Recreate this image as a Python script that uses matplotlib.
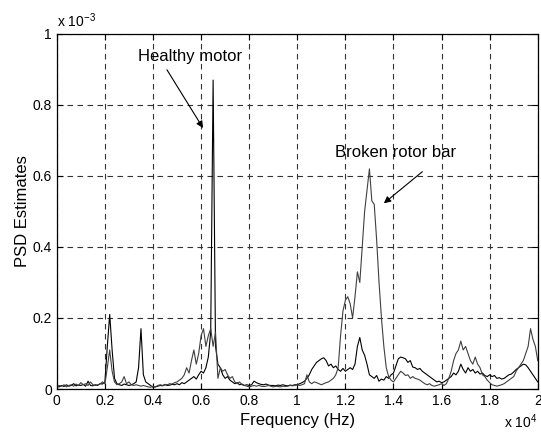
import numpy as np
import matplotlib
matplotlib.use("Agg")
import matplotlib.pyplot as plt

plt.rcParams['font.family'] = ['Liberation Sans', 'DejaVu Sans']
plt.rcParams['mathtext.fontset'] = 'custom'
plt.rcParams['mathtext.rm'] = 'Liberation Sans'
plt.rcParams['mathtext.it'] = 'Liberation Sans'

# frequency grid step (Hz), PSD values in units of 1e-3
freq_step = 100
healthy = [
    0.008, 0.006, 0.010, 0.007, 0.012, 0.008, 0.010, 0.015, 0.009, 0.011,
    0.010, 0.013, 0.008, 0.022, 0.010, 0.009, 0.012, 0.010, 0.015, 0.014,
    0.020, 0.120, 0.210, 0.110, 0.030, 0.015, 0.012, 0.010, 0.014, 0.012,
    0.010, 0.012, 0.015, 0.020, 0.060, 0.170, 0.040, 0.020, 0.015, 0.010,
    0.005, 0.006, 0.008, 0.010, 0.009, 0.012, 0.010, 0.011, 0.013, 0.012,
    0.015, 0.012, 0.018, 0.015, 0.020, 0.025, 0.030, 0.035, 0.028, 0.040,
    0.050, 0.045, 0.060, 0.090, 0.160, 0.870, 0.120, 0.070, 0.060, 0.040,
    0.030, 0.035, 0.025, 0.020, 0.015, 0.018, 0.012, 0.014, 0.010, 0.012,
    0.010, 0.012, 0.022, 0.018, 0.015, 0.013, 0.012, 0.014, 0.011, 0.010,
    0.010, 0.009, 0.011, 0.010, 0.012, 0.010, 0.009, 0.011, 0.010, 0.012,
    0.012, 0.015, 0.018, 0.022, 0.030, 0.040, 0.055, 0.065, 0.075, 0.080,
    0.085, 0.088, 0.080, 0.065, 0.070, 0.060, 0.065, 0.055, 0.050, 0.058,
    0.050, 0.055, 0.060, 0.055, 0.070, 0.120, 0.145, 0.110, 0.095, 0.070,
    0.040, 0.035, 0.030, 0.038, 0.022, 0.028, 0.025, 0.035, 0.030, 0.040,
    0.045, 0.065, 0.085, 0.090, 0.088, 0.085, 0.075, 0.080, 0.062, 0.060,
    0.055, 0.058, 0.050, 0.045, 0.040, 0.035, 0.030, 0.025, 0.020, 0.022,
    0.018, 0.020, 0.025, 0.030, 0.035, 0.045, 0.040, 0.050, 0.070, 0.055,
    0.045, 0.060, 0.050, 0.055, 0.045, 0.050, 0.042, 0.045, 0.038, 0.035,
    0.040, 0.035, 0.038, 0.030, 0.032, 0.028, 0.030, 0.035, 0.040, 0.042,
    0.048, 0.055, 0.060, 0.065, 0.070, 0.068, 0.060, 0.050, 0.040, 0.030,
    0.020,
]
broken = [
    0.005, 0.010, 0.008, 0.012, 0.006, 0.010, 0.012, 0.008, 0.014, 0.010,
    0.018, 0.012, 0.015, 0.010, 0.020, 0.012, 0.010, 0.012, 0.014, 0.020,
    0.015, 0.060, 0.110, 0.050, 0.020, 0.012, 0.015, 0.020, 0.035, 0.015,
    0.020, 0.012, 0.010, 0.012, 0.010, 0.008, 0.010, 0.008, 0.006, 0.005,
    0.008, 0.006, 0.010, 0.012, 0.010, 0.013, 0.012, 0.015, 0.014, 0.018,
    0.020, 0.025, 0.030, 0.040, 0.060, 0.045, 0.080, 0.110, 0.070, 0.100,
    0.150, 0.170, 0.120, 0.150, 0.170, 0.120, 0.160, 0.030, 0.060, 0.050,
    0.055, 0.040, 0.030, 0.035, 0.020, 0.015, 0.020, 0.012, 0.010, 0.008,
    0.006, 0.008, 0.010, 0.008, 0.010, 0.008, 0.007, 0.008, 0.010, 0.008,
    0.006, 0.008, 0.007, 0.006, 0.008, 0.007, 0.008, 0.010, 0.009, 0.010,
    0.012, 0.010, 0.012, 0.015, 0.040, 0.020, 0.015, 0.020, 0.018, 0.015,
    0.012, 0.015, 0.018, 0.020, 0.025, 0.030, 0.040, 0.060, 0.150, 0.220,
    0.250, 0.260, 0.240, 0.200, 0.260, 0.330, 0.300, 0.400, 0.500, 0.560,
    0.620, 0.530, 0.520, 0.420, 0.300, 0.200, 0.120, 0.060, 0.035, 0.025,
    0.020, 0.030, 0.040, 0.050, 0.045, 0.038, 0.040, 0.030, 0.035, 0.030,
    0.028, 0.025, 0.020, 0.015, 0.012, 0.015, 0.010, 0.008, 0.010, 0.012,
    0.015, 0.010, 0.015, 0.030, 0.050, 0.080, 0.100, 0.110, 0.135, 0.110,
    0.120, 0.100, 0.080, 0.070, 0.090, 0.070, 0.060, 0.040, 0.035, 0.025,
    0.018, 0.012, 0.010, 0.008, 0.010, 0.012, 0.015, 0.020, 0.025, 0.030,
    0.035, 0.050, 0.060, 0.070, 0.080, 0.100, 0.120, 0.170, 0.140, 0.120,
    0.080,
]
xticks = [0, 0.2, 0.4, 0.6, 0.8, 1, 1.2, 1.4, 1.6, 1.8, 2]
xticklabels = ['0', '0.2', '0.4', '0.6', '0.8', '1', '1.2', '1.4', '1.6', '1.8', '2']
yticks = [0, 0.2, 0.4, 0.6, 0.8, 1]
yticklabels = ['0', '0.2', '0.4', '0.6', '0.8', '1']

freq = np.arange(len(healthy)) * freq_step / 1e4  # in units of 1e4 Hz

fig = plt.figure(figsize=(5.41, 4.32), dpi=100)
ax = fig.add_axes([0.105, 0.0995, 0.889, 0.822])

ax.plot(freq, healthy, color='k', lw=0.8)
ax.plot(freq, broken, color='0.25', lw=0.8)

ax.set_xlim(0, 2)
ax.set_ylim(0, 1)
ax.set_xticks(xticks)
ax.set_xticklabels(xticklabels)
ax.set_yticks(yticks)
ax.set_yticklabels(yticklabels)
ax.tick_params(direction='in', length=4, labelsize=10, top=True, right=True, width=0.8)
ax.grid(True, color='0.2', linestyle=(0, (5, 4)), lw=0.8)
for s in ax.spines.values():
    s.set_linewidth(0.9)

ax.set_xlabel('Frequency (Hz)', fontsize=12, labelpad=4)
ax.set_ylabel('PSD Estimates', fontsize=12, labelpad=2)

ax.text(0, 1.01, r'x 10$^{-3}$', transform=ax.transAxes, fontsize=10, ha='left', va='bottom')
ax.text(1.0, -0.065, r'x 10$^{4}$', transform=ax.transAxes, fontsize=10, ha='right', va='top')

# labels and arrows
ax.text(0.554, 0.935, 'Healthy motor', fontsize=12, ha='center', va='center')
ax.annotate('', xy=(0.608, 0.735), xytext=(0.458, 0.899),
            arrowprops=dict(arrowstyle='-|>', color='k', lw=0.8, mutation_scale=10,
                            shrinkA=0, shrinkB=0))
ax.text(1.408, 0.665, 'Broken rotor bar', fontsize=12, ha='center', va='center')
ax.annotate('', xy=(1.36, 0.523), xytext=(1.52, 0.612),
            arrowprops=dict(arrowstyle='-|>', color='k', lw=0.8, mutation_scale=10,
                            shrinkA=0, shrinkB=0))

fig.savefig('out.png', dpi=100)
